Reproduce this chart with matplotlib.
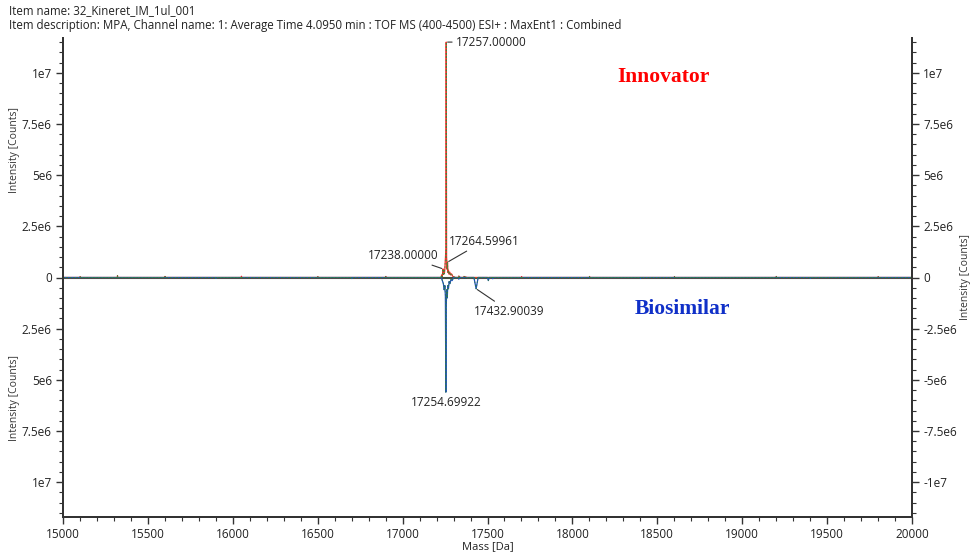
#!/usr/bin/env python3
"""Mirror plot of deconvoluted intact mass spectra: innovator vs biosimilar."""

import matplotlib

matplotlib.use("Agg")
import matplotlib.pyplot as plt  # noqa: E402
from matplotlib.ticker import FuncFormatter, MultipleLocator  # noqa: E402

# --- data ---
item_name = "Item name: 32_Kineret_IM_1ul_001"
item_desc = ("Item description: MPA, Channel name: 1: Average Time 4.0950 min : "
             "TOF MS (400-4500) ESI+ : MaxEnt1 : Combined")

# innovator trace (upper half), mass in Da, intensity in counts
inn_mass = [15000, 15100, 15101, 15102, 15320, 15321, 15322, 15600, 15601, 15602,
            16050, 16051, 16052, 16500, 16501, 16502, 16900, 16901, 16902,
            17200, 17226, 17230, 17233, 17236, 17238, 17240, 17243, 17246, 17249,
            17252, 17255, 17257, 17259, 17262, 17264.6, 17267, 17270, 17274, 17278,
            17283, 17288, 17295, 17310, 17330, 17331, 17340, 17360, 17361, 17380,
            17700, 17701, 17702, 18100, 18101, 18102, 18600, 18601, 18602,
            19200, 19201, 19202, 19800, 19801, 19802, 20000]
inn_int = [0, 0, 4e4, 0, 0, 9e4, 0, 0, 5e4, 0,
           0, 6e4, 0, 0, 4e4, 0, 0, 5e4, 0,
           0, 0, 1.2e5, 3e4, 2.5e5, 4.2e5, 1.5e5, 3.2e5, 1.8e5, 4.5e5,
           9e5, 1.4e6, 1.15e7, 1.0e6, 4e5, 7.5e5, 2.5e5, 3.5e5, 1.6e5, 2.6e5,
           1.2e5, 1.8e5, 6e4, 0, 0, 7e4, 0, 0, 5e4, 0,
           0, 4e4, 0, 0, 5e4, 0, 0, 4e4, 0,
           0, 5e4, 0, 0, 4e4, 0, 0]

# biosimilar trace (lower half, plotted as negative counts)
bio_mass = [15000, 15900, 15901, 15902, 16700, 16701, 16702,
            17200, 17228, 17234, 17240, 17245, 17249, 17252, 17254.7, 17257,
            17260, 17263, 17266, 17270, 17274, 17279, 17285, 17292, 17300,
            17330, 17331, 17332, 17420, 17432.9, 17445, 17500, 17505, 17510,
            17530, 17531, 17532, 18400, 18401, 18402, 19400, 19401, 19402, 20000]
bio_int = [0, 0, -4e4, 0, 0, -5e4, 0,
           0, 0, -1.5e5, -3e5, -6e5, -4e5, -9e5, -5.6e6, -1.4e6,
           -6e5, -1.0e6, -4e5, -5.5e5, -2e5, -3e5, -1e5, -1.5e5, 0,
           0, -8e4, 0, 0, -5.5e5, 0, 0, -1.5e5, 0,
           0, -6e4, 0, 0, -4e4, 0, 0, -4e4, 0, 0]

# peak labels: (mass, intensity, text)
peak_labels = [
    (17257.0, 1.15e7, "17257.00000"),
    (17238.0, 4.2e5, "17238.00000"),
    (17264.6, 7.5e5, "17264.59961"),
    (17432.9, -5.5e5, "17432.90039"),
    (17254.7, -5.6e6, "17254.69922"),
]

x_range = (15000, 20000)
y_limit = 1.17e7

UI_FONT = "Open Sans"
AXIS_COLOR = "#333333"


def fmt_abs(v, _pos):
    return fmt_signed(abs(v), _pos)


def fmt_signed(v, _pos):
    if abs(v) < 1:
        return "0"
    sign = "-" if v < 0 else ""
    v = abs(v)
    exp = 0
    while v >= 10:
        v /= 10
        exp += 1
    return f"{sign}{v:g}e{exp}"


fig = plt.figure(figsize=(9.72, 5.52), dpi=100)
ax = fig.add_axes([63 / 972, 35 / 552, (912 - 63) / 972, (517 - 38) / 552])

ax.axhline(0, color="#3f4f3f", lw=1.5, zorder=2)
ax.plot(inn_mass, inn_int, color="#ff2a2a", lw=0.9, zorder=3)
ax.plot(inn_mass, inn_int, color="#3a8a3a", lw=0.6, ls=(0, (2, 2)), zorder=4)
ax.plot(bio_mass, bio_int, color="#1f4fbf", lw=0.9, zorder=3)
ax.plot(bio_mass, bio_int, color="#2f7a4a", lw=0.6, ls=(0, (2, 2)), zorder=4)

ax.set_xlim(*x_range)
ax.set_ylim(-y_limit, y_limit)

ax.xaxis.set_major_locator(MultipleLocator(500))
ax.xaxis.set_minor_locator(MultipleLocator(100))
ax.yaxis.set_major_locator(MultipleLocator(2.5e6))
ax.yaxis.set_minor_locator(MultipleLocator(5e5))
ax.yaxis.set_major_formatter(FuncFormatter(fmt_abs))

ax2 = ax.twinx()
ax2.set_position(ax.get_position())
ax2.set_ylim(-y_limit, y_limit)
ax2.yaxis.set_major_locator(MultipleLocator(2.5e6))
ax2.yaxis.set_minor_locator(MultipleLocator(5e5))
ax2.yaxis.set_major_formatter(FuncFormatter(fmt_signed))

for a in (ax, ax2):
    a.spines["top"].set_visible(False)
    for s in ("left", "right", "bottom"):
        a.spines[s].set_color(AXIS_COLOR)
        a.spines[s].set_linewidth(1.4)
    a.tick_params(which="major", length=5, width=1, color=AXIS_COLOR,
                  labelsize=8.5, labelcolor="#222222", pad=3)
    a.tick_params(which="minor", length=3, width=0.8, color=AXIS_COLOR)
    for lbl in a.get_xticklabels() + a.get_yticklabels():
        lbl.set_fontfamily(UI_FONT)

ax.set_xlabel("Mass [Da]", fontsize=8, family=UI_FONT, color="#222222", labelpad=0)

# axis titles
fig.text(15 / 972, 1 - 150 / 552, "Intensity [Counts]", rotation=90, ha="center",
         va="center", fontsize=7.5, family=UI_FONT, color="#333333")
fig.text(15 / 972, 1 - 398 / 552, "Intensity [Counts]", rotation=90, ha="center",
         va="center", fontsize=7.5, family=UI_FONT, color="#333333")
fig.text(965 / 972, 1 - 277 / 552, "Intensity [Counts]", rotation=90, ha="center",
         va="center", fontsize=7.5, family=UI_FONT, color="#333333")

# header lines
fig.text(9 / 972, 1 - 11 / 552, item_name, ha="left", va="center",
         fontsize=8.3, family=UI_FONT, color="#222222")
fig.text(9 / 972, 1 - 26 / 552, item_desc, ha="left", va="center",
         fontsize=8.3, family=UI_FONT, color="#222222")

# peak annotations
label_style = dict(fontsize=8.5, family=UI_FONT, color="#222222",
                   textcoords="offset pixels")
line_style = dict(arrowstyle="-", color="#333333", lw=0.8, shrinkA=1, shrinkB=1)
offsets = [((10, 0), "left", "center", True),
           ((-4, 7), "right", "bottom", True),
           ((1, 21), "left", "center", True),
           ((-2, -16), "left", "top", True),
           ((0, -4), "center", "top", False)]
for (mass, inten, text), (off, ha, va, leader) in zip(peak_labels, offsets):
    ax.annotate(text, (mass, inten), xytext=off, ha=ha, va=va,
                arrowprops=line_style if leader else None, **label_style)

ax.text(0.707, 0.918, "Innovator", transform=ax.transAxes, ha="center", va="center",
        fontsize=15.5, fontweight="bold", family="Liberation Serif", color="#ff0000")
ax.text(0.73, 0.434, "Biosimilar", transform=ax.transAxes, ha="center", va="center",
        fontsize=15.5, fontweight="bold", family="Liberation Serif", color="#1030c8")

fig.savefig("out.png", dpi=100)
